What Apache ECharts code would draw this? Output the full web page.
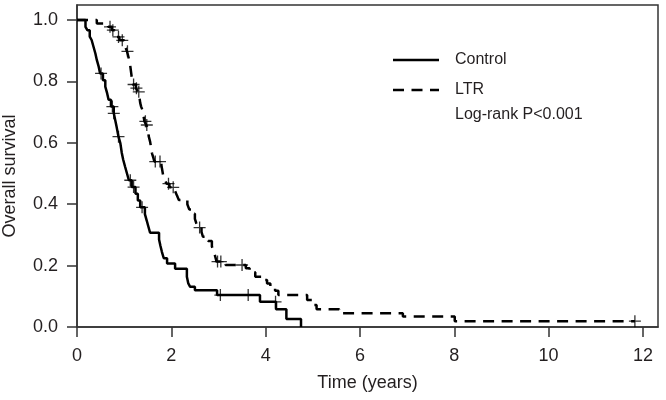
<!DOCTYPE html>
<html><head><meta charset="utf-8">
<script src="https://cdn.jsdelivr.net/npm/echarts@6/dist/echarts.min.js"></script>
<style>html,body{margin:0;padding:0;background:#fff}#c{width:666px;height:400px}</style>
</head><body><div id="c"></div>
<script>
// Tick labels
const xTicks = [0, 2, 4, 6, 8, 10, 12];
const yTicks = [0, 0.2, 0.4, 0.6, 0.8, 1.0];

// Control (solid) Kaplan-Meier steps: time (years) and survival after the step
const ctrlTime = [0, 0.18, 0.22, 0.27, 0.31, 0.35, 0.39, 0.42, 0.46, 0.49, 0.55, 0.60, 0.64, 0.67, 0.72, 0.78, 0.81, 0.84, 0.88, 0.92, 0.95, 0.98, 1.02, 1.06, 1.10, 1.16, 1.24, 1.29, 1.34, 1.44, 1.48, 1.51, 1.55, 1.74, 1.77, 1.80, 1.84, 1.91, 2.08, 2.33, 2.36, 2.40, 2.50, 2.97, 3.88, 4.22, 4.44, 4.75];
const ctrlSurv = [1.0, 0.978, 0.967, 0.946, 0.935, 0.913, 0.891, 0.870, 0.848, 0.826, 0.804, 0.783, 0.761, 0.740, 0.718, 0.696, 0.674, 0.652, 0.620, 0.598, 0.567, 0.545, 0.522, 0.500, 0.478, 0.456, 0.434, 0.412, 0.390, 0.368, 0.346, 0.329, 0.307, 0.285, 0.264, 0.245, 0.224, 0.207, 0.190, 0.164, 0.142, 0.131, 0.120, 0.104, 0.082, 0.058, 0.026, 0.0];
// Control censor marks
const ctrlCensTime = [0.51, 0.75, 0.78, 0.88, 1.13, 1.20, 1.38, 3.04, 3.63, 4.21];
const ctrlCensSurv = [0.826, 0.718, 0.696, 0.620, 0.478, 0.456, 0.390, 0.104, 0.104, 0.082];

// LTR (dashed) Kaplan-Meier steps
const ltrTime = [0, 0.42, 0.66, 0.74, 0.80, 0.84, 0.90, 1.00, 1.03, 1.06, 1.08, 1.10, 1.12, 1.13, 1.14, 1.15, 1.16, 1.17, 1.18, 1.25, 1.29, 1.33, 1.34, 1.36, 1.39, 1.43, 1.47, 1.50, 1.52, 1.55, 1.57, 1.59, 1.62, 1.64, 1.79, 1.81, 1.83, 1.86, 1.90, 1.96, 2.08, 2.12, 2.16, 2.34, 2.38, 2.45, 2.50, 2.53, 2.57, 2.64, 2.67, 2.78, 2.86, 2.90, 2.93, 2.96, 3.15, 3.58, 3.66, 3.78, 3.98, 4.03, 4.10, 4.20, 4.27, 4.88, 5.00, 5.08, 5.56, 6.91, 8.01, 11.83];
const ltrSurv = [1.0, 0.989, 0.978, 0.967, 0.956, 0.945, 0.934, 0.922, 0.910, 0.898, 0.886, 0.874, 0.862, 0.850, 0.838, 0.826, 0.814, 0.802, 0.790, 0.778, 0.766, 0.742, 0.730, 0.718, 0.706, 0.670, 0.658, 0.646, 0.622, 0.604, 0.586, 0.566, 0.551, 0.539, 0.527, 0.509, 0.491, 0.479, 0.467, 0.455, 0.443, 0.428, 0.414, 0.400, 0.383, 0.369, 0.352, 0.338, 0.324, 0.310, 0.294, 0.280, 0.262, 0.248, 0.230, 0.213, 0.202, 0.191, 0.178, 0.164, 0.153, 0.142, 0.131, 0.118, 0.104, 0.088, 0.072, 0.058, 0.045, 0.034, 0.019, 0.019];
// LTR censor marks
const ltrCensTime = [0.70, 0.76, 0.88, 0.96, 1.07, 1.20, 1.26, 1.31, 1.45, 1.48, 1.66, 1.76, 1.94, 2.04, 2.60, 2.98, 3.05, 3.50, 11.83];
const ltrCensSurv = [0.978, 0.967, 0.945, 0.934, 0.898, 0.790, 0.778, 0.766, 0.670, 0.658, 0.539, 0.539, 0.467, 0.455, 0.324, 0.213, 0.213, 0.202, 0.019];

const seriesNames = ['Control', 'LTR'];
const noteText = 'Log-rank P<0.001';

const zip = (a, b) => a.map((v, i) => [v, b[i]]);
const FONT = '"Liberation Sans", Arial, Helvetica, sans-serif';
const TXT = '#231f20';
const plus = 'path://M0 6L12 6M6 0L6 12';

const chart = echarts.init(document.getElementById('c'), null, {renderer: 'canvas'});
chart.setOption({
  animation: false,
  backgroundColor: '#fff',
  grid: {left: 77, right: 8, top: 5, bottom: 73, show: true, borderColor: '#333', borderWidth: 1.5, backgroundColor: 'transparent'},
  xAxis: {
    type: 'value', min: 0, max: 12.32, interval: 2,
    axisLine: {show: true, onZero: false, lineStyle: {color: '#333', width: 1.5}},
    axisTick: {show: true, inside: false, length: 10, customValues: xTicks, lineStyle: {color: '#333', width: 1.5}},
    axisLabel: {customValues: xTicks, fontSize: 18, color: TXT, fontFamily: FONT, margin: 20},
    splitLine: {show: false},
    name: 'Time (years)', nameLocation: 'middle', nameGap: 47,
    nameTextStyle: {fontSize: 18, color: TXT, fontFamily: FONT}
  },
  yAxis: {
    type: 'value', min: 0, max: 1.049, interval: 0.2,
    axisLine: {show: true, onZero: false, lineStyle: {color: '#333', width: 1.5}},
    axisTick: {show: true, inside: false, length: 10, customValues: yTicks, lineStyle: {color: '#333', width: 1.5}},
    axisLabel: {customValues: yTicks, fontSize: 18, color: TXT, fontFamily: FONT, margin: 19, formatter: v => v.toFixed(1)},
    splitLine: {show: false}
  },
  graphic: [
    {type: 'text', x: 10, y: 176, rotation: Math.PI / 2,
     style: {text: 'Overall survival', fontSize: 18, fontFamily: FONT, fill: TXT, align: 'center', verticalAlign: 'middle'}},
    {type: 'line', shape: {x1: 393, y1: 60, x2: 439, y2: 60}, style: {stroke: '#000', lineWidth: 2.5}},
    {type: 'line', shape: {x1: 393, y1: 90, x2: 439, y2: 90}, style: {stroke: '#000', lineWidth: 2.5, lineDash: [11, 7.5]}},
    {type: 'text', x: 455, y: 60, style: {text: seriesNames[0], fontSize: 16, fontFamily: FONT, fill: TXT, verticalAlign: 'middle'}},
    {type: 'text', x: 455, y: 90, style: {text: seriesNames[1], fontSize: 16, fontFamily: FONT, fill: TXT, verticalAlign: 'middle'}},
    {type: 'text', x: 455, y: 115, style: {text: noteText, fontSize: 16, fontFamily: FONT, fill: TXT, verticalAlign: 'middle'}}
  ],
  series: [
    {name: seriesNames[0], type: 'line', step: 'end', showSymbol: false, data: zip(ctrlTime, ctrlSurv),
     lineStyle: {color: '#000', width: 2.5}, z: 3},
    {name: seriesNames[1], type: 'line', step: 'end', showSymbol: false, data: zip(ltrTime, ltrSurv),
     lineStyle: {color: '#000', width: 2.5, type: [11, 7.5]}, z: 3},
    {name: seriesNames[0] + ' censored', type: 'scatter', data: zip(ctrlCensTime, ctrlCensSurv),
     symbol: plus, symbolSize: 12, itemStyle: {color: '#000', borderColor: '#000', borderWidth: 1.3}, z: 4},
    {name: seriesNames[1] + ' censored', type: 'scatter', data: zip(ltrCensTime, ltrCensSurv),
     symbol: plus, symbolSize: 12, itemStyle: {color: '#000', borderColor: '#000', borderWidth: 1.3}, z: 4}
  ]
});
</script>
</body></html>
